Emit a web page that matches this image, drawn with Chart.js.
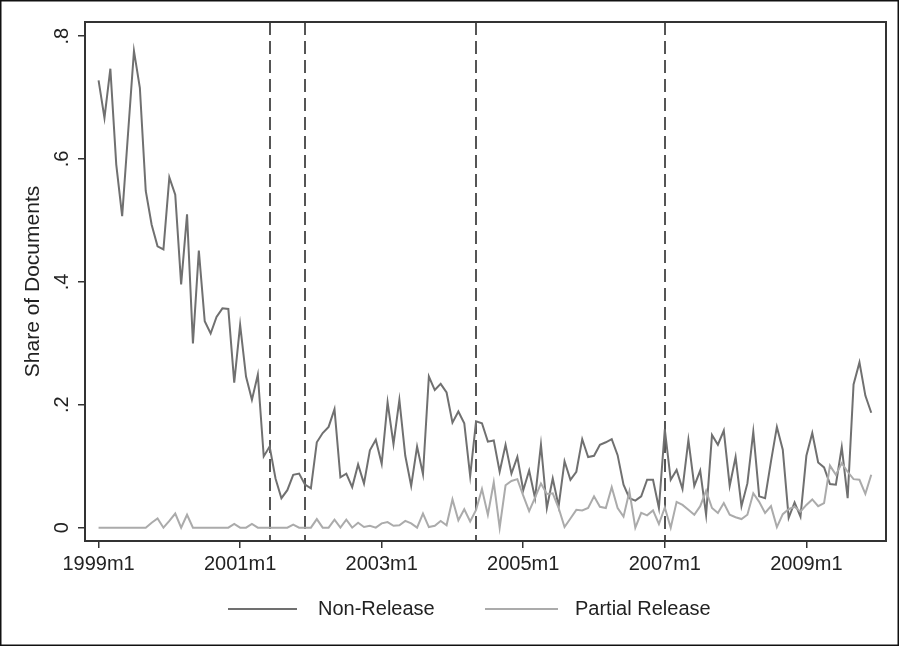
<!DOCTYPE html>
<html>
<head>
<meta charset="utf-8">
<script src="https://cdn.jsdelivr.net/npm/chart.js@4.4.1/dist/chart.umd.min.js"></script>
<style>
  html, body { margin: 0; padding: 0; background: #fff; }
  #wrap { width: 899px; height: 646px; position: relative; }
</style>
</head>
<body>
<div id="wrap"><canvas id="chart"></canvas></div>
<script>
// monthly share of documents, 1999m1 .. 2009m12 (index 0 = 1999m1)
const nonRelease = [
  .728, .667, .747, .591, .507, .642, .776, .716, .548, .493, .458, .453,
  .570, .542, .396, .510, .300, .451, .336, .316, .343, .357, .356, .236,
  .330, .246, .208, .249, .116, .132, .080, .048, .061, .086, .088, .070,
  .064, .139, .154, .164, .193, .082, .088, .066, .103, .072, .126, .143,
  .104, .204, .136, .208, .117, .068, .132, .087, .246, .224, .234, .220,
  .171, .189, .170, .084, .173, .170, .140, .142, .091, .135, .088, .115,
  .061, .093, .048, .135, .032, .080, .035, .108, .078, .091, .144, .115,
  .117, .135, .139, .144, .118, .070, .048, .044, .051, .078, .078, .032,
  .160, .078, .094, .063, .143, .068, .093, .021, .151, .135, .158, .068,
  .115, .035, .072, .156, .051, .048, .108, .164, .127, .016, .041, .018,
  .117, .154, .106, .098, .071, .070, .131, .048, .233, .269, .215, .187
];
const partialRelease = [
  0, 0, 0, 0, 0, 0, 0, 0, 0, .008, .015, 0,
  .011, .023, 0, .021, 0, 0, 0, 0, 0, 0, 0, .006,
  0, 0, .006, 0, 0, 0, 0, 0, 0, .005, 0, 0,
  0, .014, 0, 0, .013, 0, .013, 0, .008, .001, .003, 0,
  .007, .009, .003, .004, .011, .007, 0, .023, .001, .003, .011, .004,
  .046, .012, .030, .010, .029, .063, .021, .074, 0, .069, .076, .079,
  .052, .027, .049, .072, .055, .056, .032, .001, .015, .029, .028, .032,
  .051, .034, .032, .066, .032, .018, .059, 0, .024, .020, .028, .006,
  .033, 0, .042, .037, .029, .021, .035, .060, .032, .024, .040, .021,
  .017, .014, .021, .056, .042, .024, .035, .001, .022, .030, .034, .026,
  .037, .046, .035, .040, .101, .086, .105, .091, .079, .078, .055, .086
];
const tickMonths = [0, 24, 48, 72, 96, 120];
const tickLabels = ['1999m1', '2001m1', '2003m1', '2005m1', '2007m1', '2009m1'];
const yTicks = [0, .2, .4, .6, .8];
const yTickLabels = ['0', '.2', '.4', '.6', '.8'];
const eventMonths = [29, 35, 64, 96];   // 2001m6, 2001m12, 2004m5, 2007m1
const seriesNames = ['Non-Release', 'Partial Release'];

const FONT = "'Liberation Sans', Arial, Helvetica, sans-serif";
const DARK = '#707070';
const LIGHT = '#ababab';
const AXIS = '#333';

// dashed event lines, box, rotated y labels, legend, outer frame
const extras = {
  id: 'extras',
  beforeDatasetsDraw(chart) {
    const { ctx, chartArea: a, scales: { x } } = chart;
    ctx.save();
    ctx.strokeStyle = '#555';
    ctx.lineWidth = 2;
    ctx.setLineDash([13, 6]);
    eventMonths.forEach(m => {
      const px = Math.round(x.getPixelForValue(m));
      ctx.beginPath();
      ctx.moveTo(px, a.top);
      ctx.lineTo(px, a.bottom);
      ctx.stroke();
    });
    ctx.restore();
  },
  afterDraw(chart) {
    const { ctx, chartArea: a, scales: { y } } = chart;
    ctx.save();
    ctx.strokeStyle = AXIS;
    ctx.lineWidth = 2;
    ctx.strokeRect(a.left, a.top, a.right - a.left, a.bottom - a.top);

    ctx.fillStyle = '#222';
    ctx.font = '20px ' + FONT;
    ctx.textAlign = 'center';
    ctx.textBaseline = 'middle';
    yTicks.forEach((v, i) => {
      const py = y.getPixelForValue(v);
      ctx.save();
      ctx.translate(62, py);
      ctx.rotate(-Math.PI / 2);
      ctx.fillText(yTickLabels[i], 0, 0);
      ctx.restore();
    });
    ctx.save();
    ctx.translate(33, (a.top + a.bottom) / 2);
    ctx.rotate(-Math.PI / 2);
    ctx.font = '21px ' + FONT;
    ctx.fillText('Share of Documents', 0, 0);
    ctx.restore();

    // legend
    const ly = 609;
    ctx.lineWidth = 2;
    ctx.textAlign = 'left';
    [[228, 297, 318, DARK], [485, 558, 575, LIGHT]].forEach((l, i) => {
      ctx.strokeStyle = l[3];
      ctx.beginPath();
      ctx.moveTo(l[0], ly);
      ctx.lineTo(l[1], ly);
      ctx.stroke();
      ctx.fillText(seriesNames[i], l[2], ly);
    });

    ctx.strokeStyle = '#111';
    ctx.lineWidth = 1.5;
    ctx.strokeRect(0.75, 0.75, chart.width - 1.5, chart.height - 1.5);
    ctx.restore();
  }
};

const ctx = document.getElementById('chart').getContext('2d');
new Chart(ctx, {
  type: 'line',
  data: {
    datasets: [{
      label: seriesNames[0],
      data: nonRelease.map((v, i) => ({ x: i, y: v })),
      borderColor: DARK,
      borderWidth: 2,
      pointRadius: 0,
      tension: 0,
      order: 1
    }, {
      label: seriesNames[1],
      data: partialRelease.map((v, i) => ({ x: i, y: v })),
      borderColor: LIGHT,
      borderWidth: 2,
      pointRadius: 0,
      tension: 0,
      order: 0
    }]
  },
  options: {
    responsive: true,
    maintainAspectRatio: false,
    animation: false,
    layout: { padding: { left: 78, top: 22, right: 13, bottom: 66 } },
    plugins: { legend: { display: false }, tooltip: { enabled: false } },
    scales: {
      x: {
        type: 'linear',
        min: -2.3,
        max: 133.5,
        afterBuildTicks: s => { s.ticks = tickMonths.map(v => ({ value: v })); },
        ticks: {
          autoSkip: false,
          maxRotation: 0,
          padding: 4,
          color: '#222',
          font: { family: FONT, size: 20 },
          callback: v => tickLabels[tickMonths.indexOf(v)]
        },
        grid: { drawOnChartArea: false, tickLength: 7, color: AXIS, lineWidth: 1.5 },
        border: { color: AXIS, width: 2 }
      },
      y: {
        min: -0.0217,
        max: 0.823,
        afterBuildTicks: s => { s.ticks = yTicks.map(v => ({ value: v })); },
        ticks: { display: false },
        grid: { drawOnChartArea: false, tickLength: 7, color: AXIS, lineWidth: 1.5 },
        border: { color: AXIS, width: 2 }
      }
    }
  },
  plugins: [extras]
});
</script>
</body>
</html>
